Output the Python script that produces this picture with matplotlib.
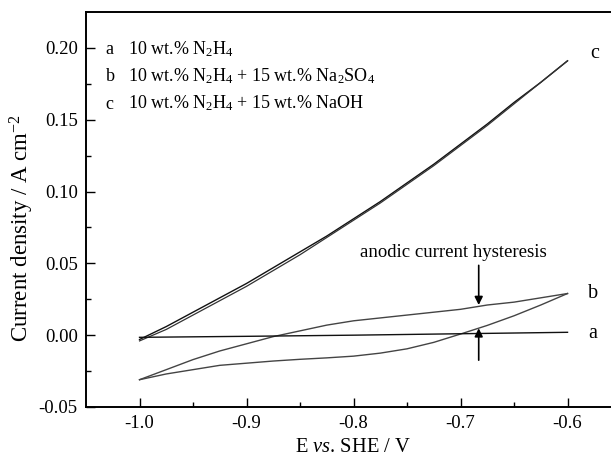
import matplotlib
matplotlib.use('Agg')
import matplotlib.pyplot as plt

plt.rcParams['font.family'] = ['Liberation Serif', 'DejaVu Serif']
plt.rcParams['mathtext.fontset'] = 'custom'
plt.rcParams['mathtext.rm'] = 'Liberation Serif'
plt.rcParams['mathtext.it'] = 'Liberation Serif:italic'
plt.rcParams['axes.unicode_minus'] = False

# potential (V vs SHE)
E = [-1.0, -0.975, -0.95, -0.925, -0.9, -0.875, -0.85, -0.825, -0.8,
     -0.775, -0.75, -0.725, -0.7, -0.675, -0.65, -0.625, -0.6]

# c: 10 wt.% N2H4 + 15 wt.% NaOH (forward / reverse scan)
c_fwd = [-0.003, 0.006, 0.016, 0.026, 0.036, 0.047, 0.058, 0.069, 0.081,
         0.093, 0.106, 0.119, 0.133, 0.147, 0.162, 0.176, 0.191]
c_rev = [-0.004, 0.004, 0.014, 0.024, 0.034, 0.045, 0.056, 0.068, 0.080,
         0.092, 0.105, 0.118, 0.132, 0.146, 0.161, 0.176, 0.191]

# b: 10 wt.% N2H4 + 15 wt.% Na2SO4 (upper / lower branch)
b_up = [-0.031, -0.024, -0.017, -0.011, -0.006, -0.001, 0.003, 0.007, 0.010,
        0.012, 0.014, 0.016, 0.018, 0.021, 0.023, 0.026, 0.029]
b_low = [-0.031, -0.027, -0.024, -0.021, -0.0195, -0.018, -0.0168, -0.0158, -0.0146,
         -0.0125, -0.0095, -0.005, 0.0008, 0.0068, 0.0135, 0.021, 0.029]

# a: 10 wt.% N2H4
E_a = [-1.0, -0.9, -0.8, -0.7, -0.6]
a_cur = [-0.0015, -0.0008, 0.0, 0.001, 0.002]

legend_keys = ['a', 'b', 'c']
legend_text = [r'10 wt.% N$_2$H$_4$',
               r'10 wt.% N$_2$H$_4$ + 15 wt.% Na$_2$SO$_4$',
               r'10 wt.% N$_2$H$_4$ + 15 wt.% NaOH']

fig = plt.figure(figsize=(6.11, 4.59), dpi=100)
ax = fig.add_axes([0.1408, 0.1133, 0.8756, 0.8606])

ax.plot(E, c_fwd, color='#111111', lw=1.0)
ax.plot(E, c_rev, color='#333333', lw=0.9)
ax.plot(E, b_up, color='#444444', lw=1.0)
ax.plot(E, b_low, color='#444444', lw=1.0)
ax.plot(E_a, a_cur, color='#111111', lw=1.0)

ax.set_xlim(-1.05, -0.55)
ax.set_ylim(-0.05, 0.225)
ax.set_xticks([-1.0, -0.9, -0.8, -0.7, -0.6])
ax.set_xticks([-0.95, -0.85, -0.75, -0.65], minor=True)
ax.set_yticks([-0.05, 0.0, 0.05, 0.10, 0.15, 0.20])
ax.set_yticks([-0.025, 0.025, 0.075, 0.125, 0.175], minor=True)
ax.set_yticklabels(['-0.05', '0.00', '0.05', '0.10', '0.15', '0.20'])
ax.tick_params(which='both', direction='in', labelsize=13.5, width=1.0)
ax.tick_params(which='major', length=6.5, pad=6)
ax.tick_params(which='minor', length=3.5)
for s in ax.spines.values():
    s.set_linewidth(1.4)

ax.set_xlabel(r'E $\it{vs}$. SHE / V', fontsize=14.8, labelpad=4)
ax.set_ylabel(r'Current density / A cm$^{-2}$', fontsize=16.5)
ax.yaxis.set_label_coords(-0.094, 0.453)

# legend-like labels
for i, (k, t) in enumerate(zip(legend_keys, legend_text)):
    y = 0.1958 - i * 0.0191
    ax.text(-1.0318, y, k, fontsize=13, va='baseline')
    ax.text(-1.0112, y, t, fontsize=13, va='baseline')

ax.text(-0.579, 0.196, 'c', fontsize=14.5, va='center')
ax.text(-0.581, 0.029, 'b', fontsize=14.5, va='center')
ax.text(-0.581, 0.0014, 'a', fontsize=14.5, va='center')

ax.text(-0.7065, 0.0576, 'anodic current hysteresis', fontsize=13.5,
        ha='center', va='center')
arrow = dict(arrowstyle='-|>', color='k', lw=1.2, mutation_scale=12,
             shrinkA=0, shrinkB=0)
ax.annotate('', xy=(-0.683, 0.021), xytext=(-0.683, 0.0486), arrowprops=arrow)
ax.annotate('', xy=(-0.683, 0.0048), xytext=(-0.683, -0.0174), arrowprops=arrow)

fig.savefig('out.png', dpi=100)
